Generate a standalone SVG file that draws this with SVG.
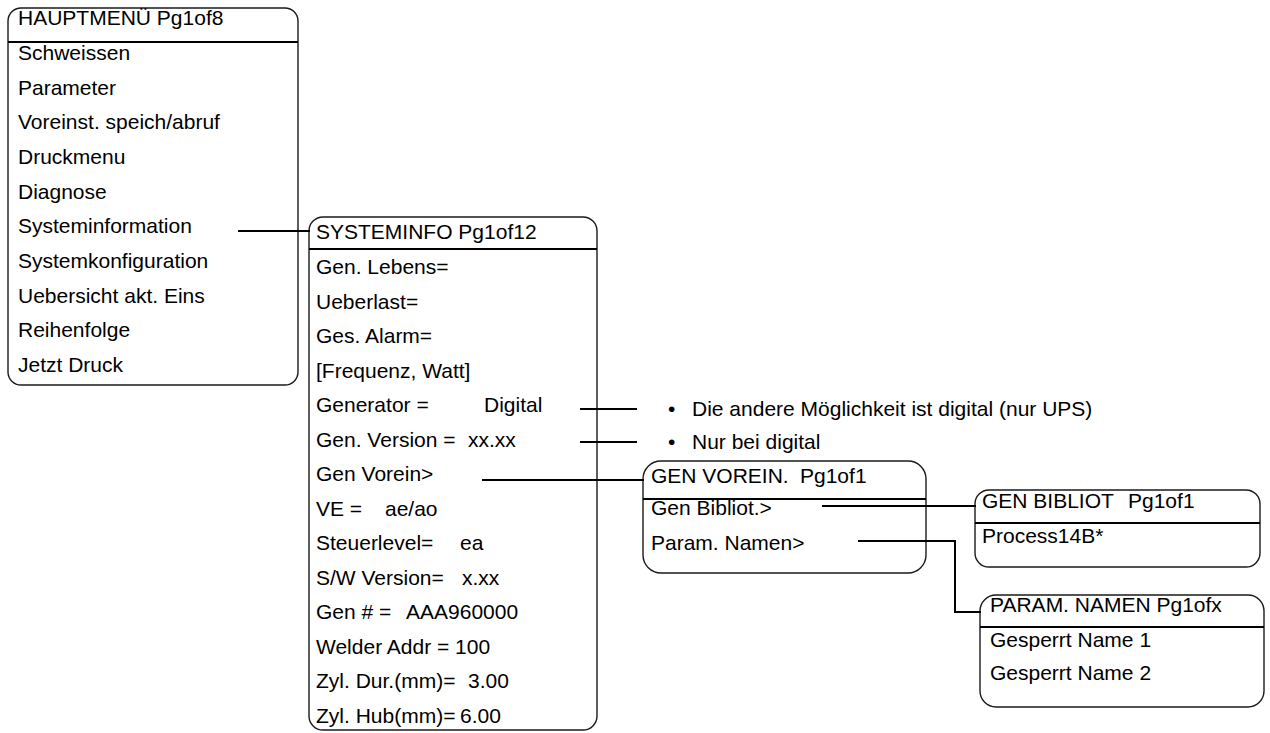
<svg xmlns="http://www.w3.org/2000/svg" width="1270" height="733" viewBox="0 0 1270 733">
<style>
text{font-family:"Liberation Sans",Arial,sans-serif;font-size:21px;fill:#000}
.box{fill:#fff;stroke:#1a1a1a;stroke-width:1.4}
.hdr{stroke:#000;stroke-width:2;fill:none}
.con{stroke:#000;stroke-width:2;fill:none}
</style>
<rect width="1270" height="733" fill="#fff"/>
<g id="hauptmenue">
<rect class="box" x="8" y="8" width="290" height="377" rx="13"/>
<line class="hdr" x1="8" y1="42" x2="298" y2="42"/>
<text x="18" y="25">HAUPTMENÜ Pg1of8</text>
<text x="18" y="60">Schweissen</text>
<text x="18" y="94.6">Parameter</text>
<text x="18" y="129.3">Voreinst. speich/abruf</text>
<text x="18" y="164">Druckmenu</text>
<text x="18" y="198.6">Diagnose</text>
<text x="18" y="233.3">Systeminformation</text>
<text x="18" y="268">Systemkonfiguration</text>
<text x="18" y="302.6">Uebersicht akt. Eins</text>
<text x="18" y="337.3">Reihenfolge</text>
<text x="18" y="372">Jetzt Druck</text>
</g>
<g id="systeminfo">
<rect class="box" x="309" y="217" width="288" height="513" rx="14"/>
<line class="hdr" x1="309" y1="249" x2="597" y2="249"/>
<text x="316" y="239">SYSTEMINFO Pg1of12</text>
<text x="316" y="274">Gen. Lebens=</text>
<text x="316" y="308.5">Ueberlast=</text>
<text x="316" y="343">Ges. Alarm=</text>
<text x="316" y="377.5">[Frequenz, Watt]</text>
<text x="316" y="412">Generator =<tspan x="484">Digital</tspan></text>
<text x="316" y="446.5">Gen. Version =<tspan x="468">xx.xx</tspan></text>
<text x="316" y="481">Gen Vorein&gt;</text>
<text x="316" y="515.5">VE =<tspan x="385">ae/ao</tspan></text>
<text x="316" y="550">Steuerlevel=<tspan x="460">ea</tspan></text>
<text x="316" y="584.5">S/W Version=<tspan x="462">x.xx</tspan></text>
<text x="316" y="619">Gen # =<tspan x="406">AAA960000</tspan></text>
<text x="316" y="653.5">Welder Addr = 100</text>
<text x="316" y="688">Zyl. Dur.(mm)=<tspan x="468">3.00</tspan></text>
<text x="316" y="722.5">Zyl. Hub(mm)=<tspan x="460">6.00</tspan></text>
</g>
<g id="notes">
<text x="668" y="416">•<tspan x="692">Die andere Möglichkeit ist digital (nur UPS)</tspan></text>
<text x="668" y="449">•<tspan x="692">Nur bei digital</tspan></text>
</g>
<g id="genvorein">
<rect class="box" x="643" y="461" width="283" height="112" rx="18"/>
<line class="hdr" x1="643" y1="499" x2="926" y2="499"/>
<text x="651" y="483">GEN VOREIN.<tspan x="800">Pg1of1</tspan></text>
<text x="651" y="515">Gen Bibliot.&gt;</text>
<text x="651" y="550">Param. Namen&gt;</text>
</g>
<g id="genbibliot">
<rect class="box" x="975" y="490" width="285" height="77" rx="14"/>
<line class="hdr" x1="975" y1="523" x2="1260" y2="523"/>
<text x="982" y="508">GEN BIBLIOT<tspan x="1128">Pg1of1</tspan></text>
<text x="982" y="543">Process14B*</text>
</g>
<g id="paramnamen">
<rect class="box" x="980" y="595" width="284" height="112" rx="16"/>
<line class="hdr" x1="980" y1="627" x2="1264" y2="627"/>
<text x="990" y="612">PARAM. NAMEN Pg1ofx</text>
<text x="990" y="647">Gesperrt Name 1</text>
<text x="990" y="680">Gesperrt Name 2</text>
</g>
<g id="connectors">
<path class="con" d="M238,231 H310"/>
<path class="con" d="M580,409 H637"/>
<path class="con" d="M580,442 H637"/>
<path class="con" d="M482,480 H644"/>
<path class="con" d="M822,506 H976"/>
<path class="con" d="M858,541 H955 V612 H981"/>
</g>
</svg>
